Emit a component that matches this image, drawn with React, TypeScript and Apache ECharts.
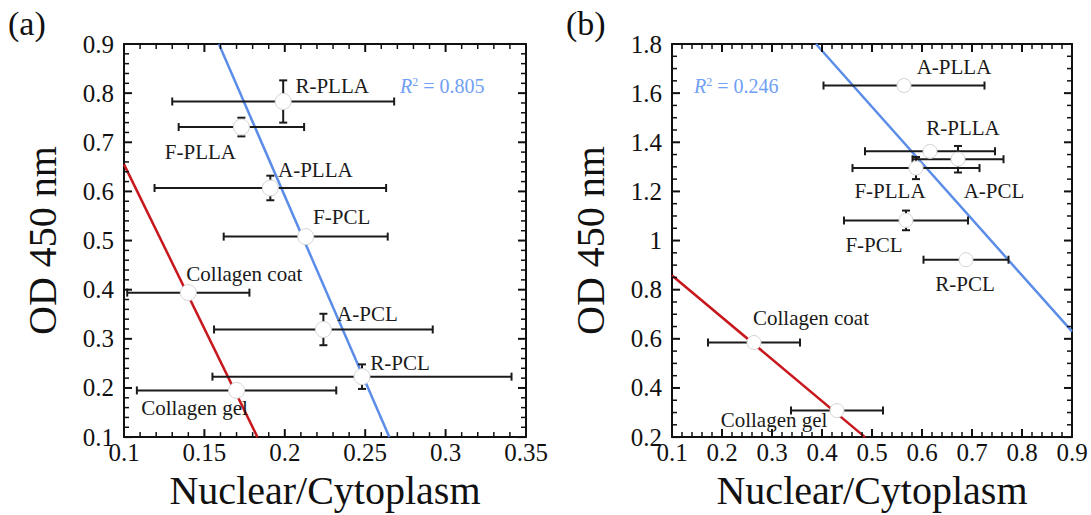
import React, { useEffect, useRef } from "react";
import * as echarts from "echarts";

// ---------- Panel (a) ----------
const catsA = ["R-PLLA", "F-PLLA", "A-PLLA", "F-PCL", "Collagen coat", "A-PCL", "R-PCL", "Collagen gel"];
const xA = [0.199, 0.173, 0.191, 0.213, 0.140, 0.224, 0.248, 0.170];
const yA = [0.783, 0.731, 0.607, 0.508, 0.394, 0.319, 0.223, 0.195];
const xErrA = [0.069, 0.039, 0.072, 0.051, 0.038, 0.068, 0.093, 0.062];
const yErrA = [0.043, 0.019, 0.025, 0.008, 0.006, 0.032, 0.025, 0.008];
const fitBlueA = [[0.159, 0.9], [0.265, 0.1]];
const fitRedA = [[0.1, 0.655], [0.183, 0.1]];
const r2A = "0.805";
const xTicksA = [0.1, 0.15, 0.2, 0.25, 0.3, 0.35];
const yTicksA = [0.1, 0.2, 0.3, 0.4, 0.5, 0.6, 0.7, 0.8, 0.9];

// ---------- Panel (b) ----------
const catsB = ["A-PLLA", "R-PLLA", "A-PCL", "F-PLLA", "F-PCL", "R-PCL", "Collagen coat", "Collagen gel"];
const xB = [0.564, 0.616, 0.672, 0.588, 0.568, 0.688, 0.264, 0.430];
const yB = [1.631, 1.363, 1.331, 1.295, 1.082, 0.922, 0.585, 0.308];
const xErrB = [0.161, 0.130, 0.091, 0.127, 0.124, 0.085, 0.092, 0.092];
const yErrB = [0.02, 0.02, 0.054, 0.045, 0.04, 0.015, 0.01, 0.01];
const fitBlueB = [[0.388, 1.8], [0.9, 0.63]];
const fitRedB = [[0.1, 0.858], [0.486, 0.2]];
const r2B = "0.246";
const xTicksB = [0.1, 0.2, 0.3, 0.4, 0.5, 0.6, 0.7, 0.8, 0.9];
const yTicksB = [0.2, 0.4, 0.6, 0.8, 1.0, 1.2, 1.4, 1.6, 1.8];

// label offsets (pixels, relative to point)
const labelOffA = [[49, -15], [-41, 25], [45, -18], [36, -20], [56, -19], [44, -15], [38, -14], [-42, 18]];
const labelOffB = [[50, -19], [33, -23], [36, 32], [-26, 23], [-32, 25], [-1, 24], [57, -25], [-63, 9]];

const FONT = "Liberation Serif";
const RED = "#c8161d";
const BLUE = "#5b8de8";
const R2COLOR = "#6fa0f4";
const INK = "#111111";

const fmt = (v: number) => String(parseFloat(v.toFixed(3)));

function mkAxis(dim: string, grid: number, ticks: number[], main: boolean) {
  return {
    type: "value",
    gridIndex: grid,
    position: dim === "x" ? (main ? "bottom" : "top") : (main ? "left" : "right"),
    min: ticks[0],
    max: ticks[ticks.length - 1],
    interval: ticks[1] - ticks[0],
    name: main ? (dim === "x" ? "Nuclear/Cytoplasm" : "OD 450 nm") : "",
    nameLocation: "middle",
    nameGap: dim === "x" ? 32 : 62,
    nameTextStyle: { fontFamily: FONT, fontSize: 40, color: INK },
    axisLine: { show: true, lineStyle: { color: INK, width: 2 } },
    axisTick: { show: false },
    minorTick: { show: false },
    axisLabel: { show: main, fontFamily: FONT, fontSize: 25, color: INK, margin: dim === "x" ? 3 : 10, formatter: fmt },
    splitLine: { show: false },
  };
}

// tick marks (inside, on all four sides) built from the tick arrays
function tickSeries(xt: number[], yt: number[], xMinor: number, yMinor: number, axisIdx: number) {
  const data: number[][] = [];
  const x0 = xt[0], y0 = yt[0];
  xt.forEach((t, i) => {
    data.push([t, y0, 0]);
    if (i < xt.length - 1) {
      const step = (xt[i + 1] - t) / xMinor;
      for (let k = 1; k < xMinor; k++) data.push([t + step * k, y0, 1]);
    }
  });
  yt.forEach((t, i) => {
    data.push([x0, t, 2]);
    if (i < yt.length - 1) {
      const step = (yt[i + 1] - t) / yMinor;
      for (let k = 1; k < yMinor; k++) data.push([x0, t + step * k, 3]);
    }
  });
  return {
    type: "custom",
    xAxisIndex: axisIdx,
    yAxisIndex: axisIdx,
    z: 6,
    silent: true,
    clip: false,
    data,
    encode: { x: 0, y: 1 },
    renderItem: (params: any, api: any) => {
      const cs = params.coordSys;
      const kind = api.value(2);
      const p = api.coord([api.value(0), api.value(1)]);
      const len = kind === 0 || kind === 2 ? 8 : 5;
      const w = kind === 0 || kind === 2 ? 2 : 1.5;
      const st = { stroke: INK, lineWidth: w };
      if (kind < 2) {
        const bottom = cs.y + cs.height, top = cs.y;
        return {
          type: "group",
          children: [
            { type: "line", shape: { x1: p[0], y1: bottom, x2: p[0], y2: bottom - len }, style: st },
            { type: "line", shape: { x1: p[0], y1: top, x2: p[0], y2: top + len }, style: st },
          ],
        };
      }
      const left = cs.x, right = cs.x + cs.width;
      return {
        type: "group",
        children: [
          { type: "line", shape: { x1: left, y1: p[1], x2: left + len, y2: p[1] }, style: st },
          { type: "line", shape: { x1: right, y1: p[1], x2: right - len, y2: p[1] }, style: st },
        ],
      };
    },
  };
}

function errorSeries(xs: number[], ys: number[], xe: number[], ye: number[], axisIdx: number) {
  return {
    type: "custom",
    xAxisIndex: axisIdx,
    yAxisIndex: axisIdx,
    z: 3,
    data: xs.map((x, i) => [x, ys[i], xe[i], ye[i]]),
    encode: { x: 0, y: 1 },
    renderItem: (params: any, api: any) => {
      const x = api.value(0), y = api.value(1), ex = api.value(2), ey = api.value(3);
      const l = api.coord([x - ex, y]);
      const r = api.coord([x + ex, y]);
      const t = api.coord([x, y + ey]);
      const b = api.coord([x, y - ey]);
      const st = { stroke: "#1a1a1a", lineWidth: 2 };
      const cap = 4;
      return {
        type: "group",
        children: [
          { type: "line", shape: { x1: l[0], y1: l[1], x2: r[0], y2: r[1] }, style: st },
          { type: "line", shape: { x1: l[0], y1: l[1] - cap, x2: l[0], y2: l[1] + cap }, style: st },
          { type: "line", shape: { x1: r[0], y1: r[1] - cap, x2: r[0], y2: r[1] + cap }, style: st },
          { type: "line", shape: { x1: t[0], y1: t[1], x2: b[0], y2: b[1] }, style: st },
          { type: "line", shape: { x1: t[0] - cap, y1: t[1], x2: t[0] + cap, y2: t[1] }, style: st },
          { type: "line", shape: { x1: b[0] - cap, y1: b[1], x2: b[0] + cap, y2: b[1] }, style: st },
        ],
      };
    },
  };
}

function pointSeries(names: string[], xs: number[], ys: number[], offs: number[][], axisIdx: number, size: number) {
  return {
    type: "scatter",
    xAxisIndex: axisIdx,
    yAxisIndex: axisIdx,
    z: 5,
    symbol: "circle",
    symbolSize: size,
    itemStyle: { color: "#ffffff", borderColor: "#d4d4d4", borderWidth: 1, opacity: 1 },
    data: names.map((n, i) => ({
      name: n,
      value: [xs[i], ys[i]],
      label: { offset: offs[i] },
    })),
    label: {
      show: true,
      position: "inside",
      formatter: (p: any) => p.name,
      fontFamily: FONT,
      fontSize: 21,
      color: "#1a1a1a",
      align: "center",
      verticalAlign: "middle",
    },
  };
}

function fitSeries(data: number[][], color: string, axisIdx: number) {
  return {
    type: "line",
    xAxisIndex: axisIdx,
    yAxisIndex: axisIdx,
    z: 2,
    symbol: "none",
    data,
    lineStyle: { color, width: 2.5 },
    silent: true,
  };
}

export default function App() {
  const ref = useRef<HTMLDivElement>(null);
  useEffect(() => {
    if (!ref.current) return;
    const chart = echarts.init(ref.current, null, { renderer: "svg" });
    const r2Text = (val: string, left: number, top: number) => ({
      type: "text",
      left,
      top,
      style: {
        text: "{i|R}{s|2}{n| = " + val + "}",
        rich: {
          i: { fontFamily: FONT, fontSize: 20, fontStyle: "italic", fill: R2COLOR, color: R2COLOR },
          s: { fontFamily: FONT, fontSize: 12, fill: R2COLOR, color: R2COLOR, verticalAlign: "top", padding: [0, 0, 8, 0] },
          n: { fontFamily: FONT, fontSize: 20, fill: R2COLOR, color: R2COLOR },
        },
      },
    });
    chart.setOption({
      animation: false,
      backgroundColor: "#ffffff",
      grid: [
        { left: 124, top: 44, width: 402, height: 398 },
        { left: 672, top: 44, width: 400, height: 399 },
      ],
      xAxis: [
        mkAxis("x", 0, xTicksA, true),
        mkAxis("x", 0, xTicksA, false),
        mkAxis("x", 1, xTicksB, true),
        mkAxis("x", 1, xTicksB, false),
      ],
      yAxis: [
        mkAxis("y", 0, yTicksA, true),
        mkAxis("y", 0, yTicksA, false),
        mkAxis("y", 1, yTicksB, true),
        mkAxis("y", 1, yTicksB, false),
      ],
      series: [
        tickSeries(xTicksA, yTicksA, 5, 5, 0),
        fitSeries(fitBlueA, BLUE, 0),
        fitSeries(fitRedA, RED, 0),
        errorSeries(xA, yA, xErrA, yErrA, 0),
        pointSeries(catsA, xA, yA, labelOffA, 0, 16),
        tickSeries(xTicksB, yTicksB, 5, 4, 2),
        fitSeries(fitBlueB, BLUE, 2),
        fitSeries(fitRedB, RED, 2),
        errorSeries(xB, yB, xErrB, yErrB, 2),
        pointSeries(catsB, xB, yB, labelOffB, 2, 14),
      ],
      graphic: [
        { type: "text", left: 8, top: 6, style: { text: "(a)", fontFamily: FONT, fontSize: 34, fill: INK } },
        { type: "text", left: 566, top: 6, style: { text: "(b)", fontFamily: FONT, fontSize: 34, fill: INK } },
        r2Text(r2A, 400, 76),
        r2Text(r2B, 694, 76),
      ],
    });
    return () => chart.dispose();
  }, []);
  return <div ref={ref} style={{ position: "fixed", left: 0, top: 0, width: 1091, height: 515 }} />;
}
